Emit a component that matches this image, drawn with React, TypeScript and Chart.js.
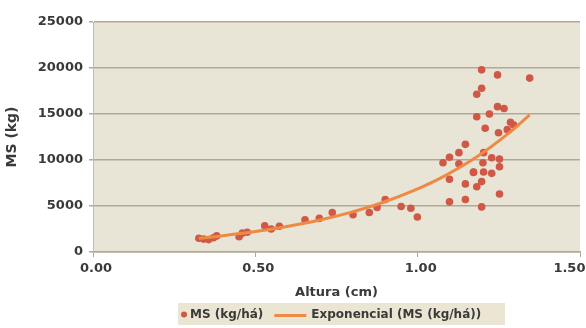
import React, { useEffect, useRef } from "react";
import { Chart, registerables } from "chart.js";

Chart.register(...registerables);

// Observed data: Altura (cm) vs MS (kg/há)
const alturaCm = [
  0.326, 0.341, 0.356, 0.371, 0.381, 0.45, 0.46, 0.475, 0.529, 0.549, 0.574, 0.653, 0.697, 0.737, 0.801,
  0.851, 0.875, 0.9, 0.949, 0.979, 0.999,
  1.078, 1.098, 1.127, 1.127, 1.147, 1.098, 1.147, 1.098, 1.147, 1.172, 1.182, 1.197, 1.197, 1.203, 1.201,
  1.203, 1.228, 1.228, 1.252, 1.252, 1.252, 1.172, 1.208, 1.249, 1.296, 1.286, 1.276, 1.182, 1.221,
  1.246, 1.266, 1.182, 1.197, 1.197, 1.246, 1.345,
];
const msKgHa = [
  1500, 1400, 1350, 1550, 1750, 1650, 2050, 2150, 2850, 2500, 2800, 3500, 3650, 4300, 4050,
  4300, 4850, 5700, 4950, 4750, 3800,
  9700, 10300, 10800, 9600, 11700, 7900, 7400, 5450, 5700, 8700, 7100, 4900, 7650, 8700, 9700,
  10800, 8550, 10250, 9270, 10100, 6300, 8650, 13450, 12970, 13800, 14100, 13300, 14700, 15000,
  15800, 15600, 17150, 17800, 19800, 19250, 18900,
];

// Exponential trendline, values
const trendX = [0.326, 0.396, 0.495, 0.593, 0.692, 0.791, 0.89, 0.989, 1.088, 1.187, 1.286, 1.345];
const trendY = [1500, 1750, 2190, 2740, 3420, 4280, 5350, 6690, 8360, 10450, 13070, 14900];

const xTicks = [0, 0.5, 1.0, 1.5];
const yTicks = [0, 5000, 10000, 15000, 20000, 25000];

const seriesLabel = "MS (kg/há)";
const trendLabel = "Exponencial (MS (kg/há))";
const xTitle = "Altura (cm)";
const yTitle = "MS (kg)";

const FONT = "'DejaVu Sans', sans-serif";
const TEXT = "#3a3a3a";
const POINT = "#cf5846";
const LINE = "#ee8a45";
const PLOT_BG = "#e8e5d6";
const GRID = "#b3a797";

const plotBg = {
  id: "plotBg",
  beforeDraw(chart: any) {
    const { ctx, chartArea } = chart;
    ctx.save();
    ctx.fillStyle = PLOT_BG;
    ctx.fillRect(chartArea.left, chartArea.top, chartArea.right - chartArea.left, chartArea.bottom - chartArea.top);
    ctx.restore();
  },
};

const customLegend = {
  id: "customLegend",
  afterDraw(chart: any) {
    const { ctx, chartArea } = chart;
    const cx = (chartArea.left + chartArea.right) / 2 + 5;
    const boxW = 327;
    const boxH = 22;
    const top = 303;
    const left = cx - boxW / 2;
    ctx.save();
    ctx.fillStyle = "#ebe6d3";
    ctx.fillRect(left, top, boxW, boxH);
    const yMid = top + boxH / 2 + 0.5;
    ctx.fillStyle = POINT;
    ctx.beginPath();
    ctx.arc(left + 6, yMid, 3, 0, Math.PI * 2);
    ctx.fill();
    ctx.font = `bold 12px ${FONT}`;
    ctx.fillStyle = TEXT;
    ctx.textBaseline = "middle";
    ctx.textAlign = "left";
    ctx.fillText(seriesLabel, left + 12, yMid);
    const w1 = ctx.measureText(seriesLabel).width;
    const lx = left + 12 + w1 + 11;
    ctx.strokeStyle = LINE;
    ctx.lineWidth = 3;
    ctx.beginPath();
    ctx.moveTo(lx, yMid + 1);
    ctx.lineTo(lx + 32, yMid + 1);
    ctx.stroke();
    ctx.fillText(trendLabel, lx + 37, yMid);
    ctx.restore();
  },
};

export default function App() {
  const ref = useRef<HTMLCanvasElement | null>(null);

  useEffect(() => {
    document.body.style.margin = "0";
    const canvas = ref.current;
    if (!canvas) return;
    const scatterData = alturaCm.map((x, i) => ({ x, y: msKgHa[i] }));
    const trendData = trendX.map((x, i) => ({ x, y: trendY[i] }));

    const chart = new Chart(canvas, {
      type: "scatter",
      data: {
        datasets: [
          {
            label: trendLabel,
            type: "line",
            data: trendData,
            borderColor: LINE,
            borderWidth: 3,
            pointRadius: 0,
            tension: 0.4,
            fill: false,
            order: 0,
          } as any,
          {
            label: seriesLabel,
            data: scatterData,
            backgroundColor: POINT,
            borderColor: POINT,
            pointRadius: 3.8,
            pointBorderWidth: 0,
            order: 1,
          },
        ],
      },
      options: {
        animation: false,
        responsive: true,
        maintainAspectRatio: false,
        layout: { padding: { left: 4, right: 6, top: 22, bottom: 28 } },
        plugins: {
          legend: { display: false },
          tooltip: { enabled: false },
        },
        scales: {
          x: {
            type: "linear",
            min: 0,
            max: 1.5,
            afterBuildTicks: (scale: any) => {
              scale.ticks = xTicks.map((v) => ({ value: v }));
            },
            afterFit: (scale: any) => {
              scale.height = 48;
              scale.paddingLeft = 0;
              scale.paddingRight = 0;
            },
            ticks: {
              callback: (v: any) =>
                Number(v) >= 1.5 ? Number(v).toFixed(2) + "\u00A0\u00A0\u00A0\u00A0\u00A0\u00A0" : Number(v).toFixed(2),
              color: TEXT,
              font: { family: FONT, size: 13, weight: "bold" },
              padding: 4,
              labelOffset: 3,
              maxRotation: 0,
            },
            grid: { display: true, drawOnChartArea: false, drawTicks: true, tickLength: 5, color: GRID },
            border: { display: true, color: GRID, width: 1.5 },
            title: {
              display: true,
              text: xTitle,
              color: TEXT,
              font: { family: FONT, size: 13, weight: "bold" },
              padding: { top: 2, bottom: 0 },
            },
          },
          y: {
            type: "linear",
            min: 0,
            max: 25000,
            afterBuildTicks: (scale: any) => {
              scale.ticks = yTicks.map((v) => ({ value: v }));
            },
            afterFit: (scale: any) => {
              scale.width = 89;
            },
            ticks: {
              callback: (v: any) => String(v),
              color: TEXT,
              font: { family: FONT, size: 13, weight: "bold" },
              padding: 6,
            },
            grid: { color: GRID, lineWidth: 1.5, tickLength: 4 },
            border: { display: true, color: "#c4bbae", width: 1 },
            title: {
              display: true,
              text: yTitle,
              color: TEXT,
              font: { family: FONT, size: 14, weight: "bold" },
              padding: { top: 0, bottom: 4 },
            },
          },
        },
      },
      plugins: [plotBg, customLegend],
    });
    return () => chart.destroy();
  }, []);

  return (
    <div style={{ position: "fixed", left: 0, top: 0, width: 586, height: 328, background: "#fff" }}>
      <canvas ref={ref} />
    </div>
  );
}
